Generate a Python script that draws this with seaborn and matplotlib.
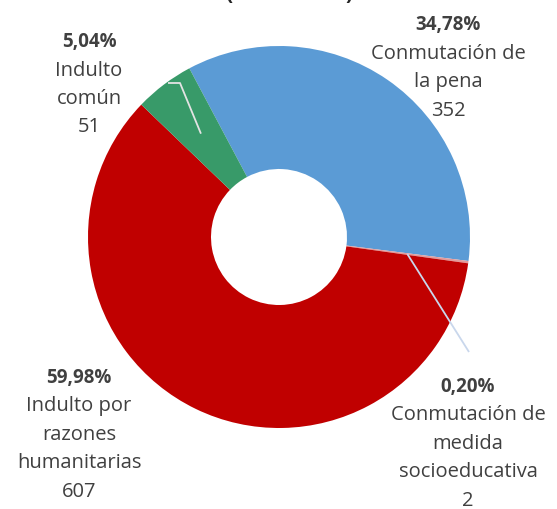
import matplotlib
matplotlib.use("Agg")
import numpy as np
import seaborn as sns
import matplotlib.pyplot as plt

# data, clockwise from the first slice
categories = ["Conmutación de\nla pena", "Conmutación de\nmedida\nsocioeducativa",
              "Indulto por\nrazones\nhumanitarias", "Indulto\ncomún"]
counts = [352, 2, 607, 51]
colors = ["#5B9BD5", "#E39A9A", "#C00000", "#389A69"]
title = "(2015 - 2019)"

# layout in pixels (from top-left of the 557x510 image)
W, H = 557, 510
CX, CY, R = 279, 238, 191
HOLE = 68 / 191
LINE = 28.5
label_px = [(448, 30), (468, 392), (79, 383), (89, 47)]  # centre x, first baseline
leader_px = {1: [(469, 353)], 3: [(168, 84), (180, 84)]}
leader_col = {1: "#C9D7EC", 3: "#E3E3E3"}


def to_data(px, py):
    return (px - CX) / R, (CY - py) / R


def main():
    sns.set_theme(style="white")
    plt.rcParams["font.family"] = ["Open Sans", "DejaVu Sans"]

    fig = plt.figure(figsize=(W / 100, H / 100), dpi=100)
    ax = fig.add_axes([0, 0, 1, 1])

    wedges, _ = ax.pie(counts, colors=colors, startangle=118, counterclock=False,
                       radius=1.0, wedgeprops=dict(width=1 - HOLE, linewidth=0))
    ax.set_aspect("auto")
    ax.set_xlim(-CX / R, (W - CX) / R)
    ax.set_ylim(-(H - CY) / R, CY / R)
    ax.axis("off")

    total = sum(counts)
    gray = "#404040"
    rm = (1 + HOLE) / 2
    for i, (name, n) in enumerate(zip(categories, counts)):
        w = wedges[i]
        mid = np.deg2rad((w.theta1 + w.theta2) / 2)
        anchor = (rm * np.cos(mid), rm * np.sin(mid))
        if i in leader_px:
            pts = [anchor] + [to_data(*p) for p in reversed(leader_px[i])]
            xs, ys = zip(*pts)
            ax.plot(xs, ys, color=leader_col[i], lw=1.3, solid_capstyle="butt")

        px, py = label_px[i]
        pct = f"{n / total * 100:.2f}%".replace(".", ",")
        lines = [pct] + name.split("\n") + [str(n)]
        for k, line in enumerate(lines):
            lx, ly = to_data(px, py + k * LINE)
            ax.text(lx, ly, line, ha="center", va="baseline",
                    fontsize=13.5 if k == 0 else 14.5,
                    fontweight="bold" if k == 0 else "normal", color=gray)

    tx, ty = to_data(290, -1)
    ax.text(tx, ty, title, ha="center", va="baseline", fontsize=15,
            fontweight="bold", color="#262626")

    fig.savefig("out.png", dpi=100)


if __name__ == "__main__":
    main()
